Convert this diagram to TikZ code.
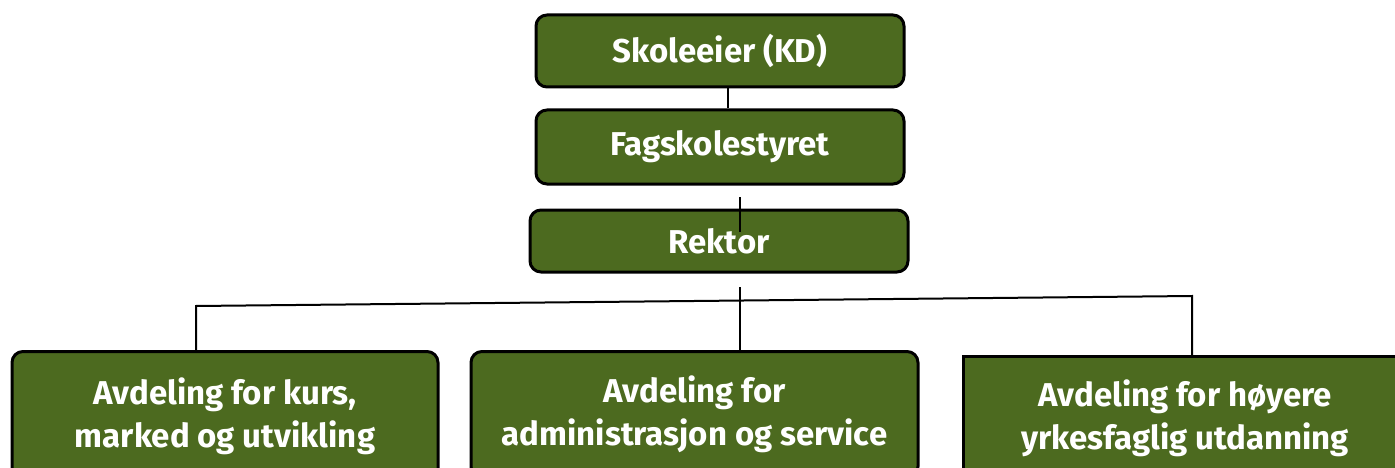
\documentclass[tikz,border=0pt]{standalone}
\usepackage{fontspec}
\setmainfont{Fira Sans}
\definecolor{boxgreen}{HTML}{4C6A1F}
\begin{document}
\begin{tikzpicture}[x=1pt,y=-1pt,
  box/.style={draw=black, line width=3pt, fill=boxgreen, rounded corners=11pt,
    text=white, font=\bfseries\fontsize{33}{43}\selectfont, align=center, inner sep=0pt},
  sqbox/.style={box, sharp corners},
  conn/.style={draw=black, line width=2pt}]
\useasboundingbox (0,0) rectangle (1395,468);
\clip (0,0) rectangle (1395,468);
\node[box, minimum width=368pt, minimum height=72pt] (ske) at (720,51) {Skoleeier (KD)};
\node[box, minimum width=368pt, minimum height=74pt] (fag) at (720,147) {Fagskolestyret};
\node[box, minimum width=378pt, minimum height=62pt] (rek) at (719,241) {Rektor};
\node[box, anchor=north, minimum width=426pt, minimum height=130pt] (left) at (225,350) {Avdeling for kurs,\\marked og utvikling};
\node[box, anchor=north, minimum width=447pt, minimum height=126pt] (mid) at (694.5,350) {Avdeling for\\administrasjon og service};
\node[sqbox, anchor=north, minimum width=444pt, minimum height=124pt] (right) at (1185,355) {Avdeling for høyere\\yrkesfaglig utdanning};
\draw[conn] ([xshift=8pt]ske.south) -- ([xshift=8pt]fag.north);
\coordinate (fr1) at (740,197);
\coordinate (fr2) at (740,232);
\draw[conn] (fr1) -- (fr2);
\coordinate (r0) at (740,287);
\coordinate (bl) at (196,306);
\coordinate (br) at (1192,296);
\draw[conn] (r0) -- (r0 |- mid.north);
\draw[conn] (bl |- left.north) -- (bl) -- (br) -- (br |- right.north);
\end{tikzpicture}
\end{document}
